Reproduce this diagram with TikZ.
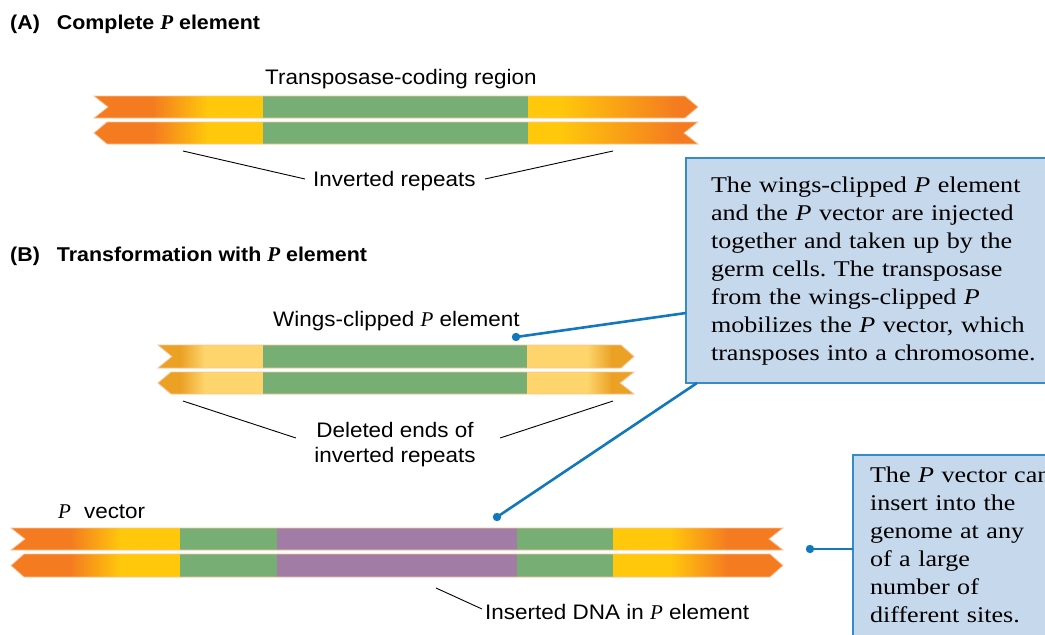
\documentclass[tikz,border=0pt]{standalone}
\usepackage{fontspec}
\setmainfont{Liberation Serif}
\newfontfamily\labfont{Liberation Sans}[FakeStretch=1.07]
\newfontfamily\notefont{Liberation Serif}[FakeStretch=1.16]
\newfontfamily\pfont{Liberation Serif}
\frenchspacing

\definecolor{cOr}{RGB}{244,123,32}
\definecolor{cYe}{RGB}{255,200,11}
\definecolor{cGr}{RGB}{118,174,116}
\definecolor{cPu}{RGB}{161,124,165}
\definecolor{cGold}{RGB}{235,161,36}
\definecolor{cLt}{RGB}{253,213,108}
\definecolor{edgec}{RGB}{248,196,154}
\definecolor{boxfill}{RGB}{198,216,236}
\definecolor{boxline}{RGB}{52,140,200}
\definecolor{calblue}{RGB}{18,120,190}

% italic serif P used inside the sans labels
\newcommand\Pit{{\pfont\itshape P}}
% heavier italic P used in the section headings
\newcommand\Phead{{\pfont\bfseries\itshape\fontsize{21}{24}\selectfont P}}

% strand end pieces: right end (R, y top, y bottom) drawn top to bottom,
% left end (L, y top, y bottom) drawn bottom to top
\def\rpoint#1#2#3{({#1-13},#2) -- (#1,{(#2+#3)/2}) -- ({#1-13},#3)}
\def\rnotch#1#2#3{(#1,#2) -- ({#1-14},{(#2+#3)/2}) -- (#1,#3)}
\def\lpoint#1#2#3{({#1+13},#3) -- (#1,{(#2+#3)/2}) -- ({#1+13},#2)}
\def\lnotch#1#2#3{(#1,#3) -- ({#1+14},{(#2+#3)/2}) -- (#1,#2)}

% colour bands of the three elements
\newcommand\fillA{%
  \fill[cOr] (80,80) rectangle (153,160);
  \shade[left color=cOr,right color=cYe] (152,80) rectangle (208,160);
  \fill[cYe] (207,80) rectangle (264,160);
  \fill[cGr] (263,80) rectangle (528,160);
  \fill[cYe] (528,80) rectangle (561,160);
  \shade[left color=cYe,right color=cOr] (560,80) rectangle (678,160);
  \fill[cOr] (677,80) rectangle (710,160);}
\newcommand\fillB{%
  \fill[cGold] (150,330) rectangle (181,400);
  \shade[left color=cGold,right color=cLt] (180,330) rectangle (205,400);
  \fill[cLt] (204,330) rectangle (264,400);
  \fill[cGr] (263,330) rectangle (527,400);
  \fill[cLt] (527,330) rectangle (588,400);
  \shade[left color=cLt,right color=cGold] (587,330) rectangle (612,400);
  \fill[cGold] (611,330) rectangle (640,400);}
\newcommand\fillC{%
  \fill[cOr] (0,520) rectangle (71,585);
  \shade[left color=cOr,right color=cYe] (70,520) rectangle (121,585);
  \fill[cYe] (120,520) rectangle (181,585);
  \fill[cGr] (180,520) rectangle (278,585);
  \fill[cPu] (277,520) rectangle (518,585);
  \fill[cGr] (517,520) rectangle (614,585);
  \fill[cYe] (613,520) rectangle (671,585);
  \shade[left color=cYe,right color=cOr] (670,520) rectangle (728,585);
  \fill[cOr] (727,520) rectangle (790,585);}

\begin{document}
\begin{tikzpicture}[x=1pt,y=-1pt,
  lab/.style={font=\labfont\fontsize{21}{25}\selectfont, inner sep=0, anchor=base west},
  head/.style={font=\labfont\bfseries\fontsize{20}{24}\selectfont, inner sep=0, anchor=base west},
  note/.style={draw=boxline, fill=boxfill, line width=1.2pt, outer sep=0,
    font=\notefont\fontsize{22.5}{28}\selectfont, align=left, anchor=north west, inner ysep=0},
  pointer/.style={black, line width=0.9pt},
  callline/.style={calblue, line width=2.6pt},
  strandedge/.style={draw=edgec, line width=0.8pt}]
\useasboundingbox (0,0) rectangle (1045,635);

% ---------- (A) complete element ----------
\node[head] (ha) at (10,29) {(A)\hspace{17pt}Complete \Phead{} element};
\node[lab] (tcr) at (265,84) {Transposase-coding region};

\begin{scope}\clip \rpoint{698}{96}{118} -- \lnotch{94}{96}{118} -- cycle; \fillA \end{scope}
\draw[strandedge] \rpoint{698}{96}{118} -- \lnotch{94}{96}{118} -- cycle;
\begin{scope}\clip \rnotch{698}{122}{144} -- \lpoint{94}{122}{144} -- cycle; \fillA \end{scope}
\draw[strandedge] \rnotch{698}{122}{144} -- \lpoint{94}{122}{144} -- cycle;

\node[lab] (ir) at (313,186) {Inverted repeats};
\coordinate (irL) at (183,151); \coordinate (irLe) at (305,179);
\coordinate (irR) at (613,151); \coordinate (irRe) at (485,179);
\draw[pointer] (irL) -- (irLe);
\draw[pointer] (irR) -- (irRe);

% ---------- (B) transformation ----------
\node[head] (hb) at (10,261) {(B)\hspace{17pt}Transformation with \Phead{} element};
\node[lab] (wcp) at (273,326) {Wings-clipped \Pit{} element};

\begin{scope}\clip \rpoint{634}{345}{368} -- \lnotch{158}{345}{368} -- cycle; \fillB \end{scope}
\draw[strandedge] \rpoint{634}{345}{368} -- \lnotch{158}{345}{368} -- cycle;
\begin{scope}\clip \rnotch{634}{372}{394} -- \lpoint{158}{372}{394} -- cycle; \fillB \end{scope}
\draw[strandedge] \rnotch{634}{372}{394} -- \lpoint{158}{372}{394} -- cycle;

\node[lab, anchor=base] (del) at (395,437)
  {\begin{tabular}[t]{@{}c@{}}Deleted ends of\\inverted repeats\end{tabular}};
\coordinate (deL) at (183,401); \coordinate (deLe) at (296,438);
\coordinate (deR) at (613,401); \coordinate (deRe) at (500,438);
\draw[pointer] (deL) -- (deLe);
\draw[pointer] (deR) -- (deRe);

% P vector
\node[lab] (pv) at (58,518) {\Pit\hspace{13pt}vector};
\begin{scope}\clip \rnotch{783}{528}{550} -- \lnotch{11}{528}{550} -- cycle; \fillC \end{scope}
\draw[strandedge] \rnotch{783}{528}{550} -- \lnotch{11}{528}{550} -- cycle;
\begin{scope}\clip \rpoint{783}{554}{577} -- \lpoint{11}{554}{577} -- cycle; \fillC \end{scope}
\draw[strandedge] \rpoint{783}{554}{577} -- \lpoint{11}{554}{577} -- cycle;

\node[lab] (ins) at (485,619) {Inserted DNA in \Pit{} element};
\coordinate (insS) at (436,588); \coordinate (insE) at (482,609);
\draw[pointer] (insS) -- (insE);

% ---------- callouts ----------
\node[note, minimum width=390, minimum height=225, text width=340, inner xsep=24] (wingnote) at (686,158)
  {\begin{tabular}{@{}l@{}}
   The wings-clipped \textit{P} element\\
   and the \textit{P} vector are injected\\
   together and taken up by the\\
   germ cells. The transposase\\
   from the wings-clipped \textit{P}\\
   mobilizes the \textit{P} vector, which\\
   transposes into a chromosome.
   \end{tabular}};
\node[note, minimum width=220, minimum height=183, text width=200, inner xsep=17] (sitenote) at (853,455)
  {\begin{tabular}{@{}l@{}}
   The \textit{P} vector can\\
   insert into the\\
   genome at any\\
   of a large\\
   number of\\
   different sites.
   \end{tabular}};

\coordinate (dotW) at (516,337); \coordinate (wnA) at (686,313);
\coordinate (dotV) at (497,517); \coordinate (wnB) at (697,383);
\coordinate (dotS) at (810,549); \coordinate (snA) at (853,549);
\draw[callline] (dotW) -- (wnA);
\draw[callline] (dotV) -- (wnB);
\draw[callline] (dotS) -- (snA);
\fill[calblue] (dotW) circle (4.2) (dotV) circle (4.2) (dotS) circle (4.2);
\end{tikzpicture}
\end{document}
